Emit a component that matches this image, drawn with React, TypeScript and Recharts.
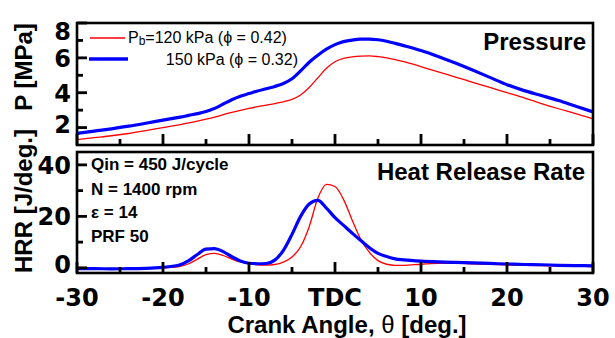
import { LineChart, Line, XAxis, YAxis } from 'recharts';

// crank angle grid [deg.]
const angles = [
  -30, -28, -26, -24, -22, -20, -18,
  -17, -16, -15, -14, -13, -12, -11, -10, -9, -8, -7, -6, -5, -4, -3, -2, -1,
  0, 1, 2, 3, 4, 5, 6, 7, 8,
  10, 12, 14, 16, 18, 20, 22, 24, 26, 28, 30,
];

// cylinder pressure [MPa]
const p120 = [
  1.31, 1.42, 1.53, 1.66, 1.82, 2.0, 2.17,
  2.27, 2.37, 2.48, 2.6, 2.74, 2.87, 2.99, 3.1, 3.2, 3.29, 3.38, 3.48, 3.62, 3.87, 4.3, 4.85, 5.4,
  5.78, 5.97, 6.06, 6.1, 6.11, 6.07, 6.0, 5.9, 5.78,
  5.5, 5.2, 4.9, 4.6, 4.3, 4.0, 3.7, 3.38, 3.08, 2.8, 2.5,
];
const p150 = [
  1.66, 1.8, 1.93, 2.08, 2.25, 2.43, 2.6,
  2.7, 2.8, 2.92, 3.1, 3.35, 3.6, 3.8, 3.95, 4.1, 4.23, 4.36, 4.53, 4.8, 5.25, 5.75, 6.15, 6.5,
  6.76, 6.93, 7.02, 7.07, 7.08, 7.04, 6.95, 6.83, 6.7,
  6.42, 6.08, 5.7, 5.3, 4.88, 4.46, 4.12, 3.84, 3.55, 3.22, 2.9,
];

// heat release rate [J/deg.]
const hrr120 = [
  -0.4, -0.5, -0.5, -0.4, -0.3, 0, 0.6,
  1.6, 3.4, 5.1, 5.6, 4.8, 3.4, 2.3, 1.6, 1.2, 1.1, 1.3, 2.2, 4.2, 8.2, 16, 27, 32.4,
  31.6, 26.5, 18.5, 11, 6, 2.8, 1.4, 1.0, 1.0,
  1.4, 1.7, 1.8, 1.6, 1.4, 1.2, 1.0, 0.9, 0.7, 0.6, 0.5,
];
const hrr150 = [
  -0.3, -0.3, -0.4, -0.3, -0.2, 0.2, 1.2,
  2.8, 5.2, 7.3, 7.5, 6.3, 4.3, 2.7, 1.8, 1.6, 1.7, 3.0, 6.8, 13, 20, 24.8, 26.2, 23.2,
  19.5, 16.5, 13.5, 10.6, 7.8, 5.6, 4.4, 3.5, 3.1,
  2.6, 2.3, 2.1, 1.9, 1.7, 1.5, 1.3, 1.2, 1.0, 0.9, 0.8,
];

const xTicks = [-30, -25, -20, -15, -10, -5, 0, 5, 10, 15, 20, 25, 30];
const pTicks = [2, 3, 4, 5, 6, 7, 8];
const pLabels = [2, 4, 6, 8];
const hrrTicks = [0, 10, 20, 30, 40];
const hrrLabels = [0, 20, 40];

const data = angles.map((a, i) => ({
  angle: a,
  p120: p120[i],
  p150: p150[i],
  hrr120: hrr120[i],
  hrr150: hrr150[i],
}));

const RED = '#ff0000';
const BLUE = '#0000ff';
const TICK_FONT = '"DejaVu Sans", sans-serif';
const TEXT_FONT = '"Liberation Sans", Arial, sans-serif';

const X_DOMAIN: [number, number] = [-30, 30];
const P_DOMAIN: [number, number] = [1, 8];
const HRR_DOMAIN: [number, number] = [-2, 45];
const PLOT_L = 77;
const PLOT_W = 516;
const P_TOP = 23;
const P_H = 122;
const HRR_TOP = 152;
const HRR_H = 121;

// inward tick marks for one panel frame
const frameTicks = (top: number, h: number, yDomain: [number, number], yTicks: number[], yLabels: number[]) => {
  const bottom = top + h;
  const xs = xTicks.map((v) => {
    const px = PLOT_L + ((v - X_DOMAIN[0]) / (X_DOMAIN[1] - X_DOMAIN[0])) * PLOT_W;
    const len = v % 10 === 0 ? 11 : 6;
    return <rect key={`x${v}`} x={px - 1.4} y={bottom - len} width={2.8} height={len} fill="#000" />;
  });
  const ys = yTicks.map((v) => {
    const py = top + ((yDomain[1] - v) / (yDomain[1] - yDomain[0])) * h;
    const len = yLabels.includes(v) ? 10 : 6;
    return <rect key={`y${v}`} x={PLOT_L} y={py - 1.4} width={len} height={2.8} fill="#000" />;
  });
  return [...xs, ...ys];
};

const xLabel = (props: any) => {
  const v = props.payload.value;
  if (v % 10 !== 0) return <g />;
  return (
    <text x={props.x} y={Number(props.y) + 33} textAnchor="middle" fontFamily={TICK_FONT} fontWeight="bold" fontSize={24} fill="#000">
      {v === 0 ? 'TDC' : v}
    </text>
  );
};

const makeYLabel = (labels: number[], top: number, bottom: number) => (props: any) => {
  const v = props.payload.value;
  if (!labels.includes(v)) return <g />;
  const dy = v === top ? 17 : v === bottom ? 5 : 9;
  return (
    <text x={Number(props.x) - 6} y={Number(props.y) + dy} textAnchor="end" fontFamily={TICK_FONT} fontWeight="bold" fontSize={24} fill="#000">
      {v}
    </text>
  );
};

export default function App() {
  return (
    <div style={{ position: 'absolute', left: 0, top: 0, width: 615, height: 338, background: '#fff' }}>
      <div style={{ position: 'absolute', left: 0, top: 0 }}>
        <LineChart width={615} height={150} data={data} margin={{ top: P_TOP, right: 22, bottom: 0, left: 0 }}>
          <XAxis
            dataKey="angle"
            type="number"
            domain={X_DOMAIN}
            ticks={xTicks}
            interval={0}
            height={5}
            tickSize={0}
            tickMargin={0}
            axisLine={false}
            tickLine={false}
            tick={false}
          />
          <YAxis
            type="number"
            domain={P_DOMAIN}
            ticks={pTicks}
            interval={0}
            width={PLOT_L}
            tickSize={0}
            tickMargin={0}
            axisLine={false}
            tickLine={false}
            tick={makeYLabel(pLabels, 8, 2)}
            allowDataOverflow
          />
          <Line dataKey="p120" type="monotone" stroke={RED} strokeWidth={1.3} dot={false} isAnimationActive={false} />
          <Line dataKey="p150" type="monotone" stroke={BLUE} strokeWidth={3.2} dot={false} isAnimationActive={false} />
        </LineChart>
      </div>
      <div style={{ position: 'absolute', left: 0, top: 140 }}>
        <LineChart width={615} height={198} data={data} margin={{ top: 12, right: 22, bottom: 0, left: 0 }}>
          <XAxis
            dataKey="angle"
            type="number"
            domain={X_DOMAIN}
            ticks={xTicks}
            interval={0}
            height={65}
            tickSize={0}
            tickMargin={0}
            axisLine={false}
            tickLine={false}
            tick={xLabel}
          />
          <YAxis
            type="number"
            domain={HRR_DOMAIN}
            ticks={hrrTicks}
            interval={0}
            width={PLOT_L}
            tickSize={0}
            tickMargin={0}
            axisLine={false}
            tickLine={false}
            tick={makeYLabel(hrrLabels, 99, 0)}
            allowDataOverflow
          />
          <Line dataKey="hrr120" type="monotone" stroke={RED} strokeWidth={1.3} dot={false} isAnimationActive={false} />
          <Line dataKey="hrr150" type="monotone" stroke={BLUE} strokeWidth={3.2} dot={false} isAnimationActive={false} />
        </LineChart>
      </div>
      <svg width={615} height={338} style={{ position: 'absolute', left: 0, top: 0, pointerEvents: 'none' }}>
        {/* panel frames with inward ticks */}
        <rect x={PLOT_L} y={P_TOP} width={PLOT_W} height={P_H} fill="none" stroke="#000" strokeWidth={2.6} />
        <rect x={PLOT_L} y={HRR_TOP} width={PLOT_W} height={HRR_H} fill="none" stroke="#000" strokeWidth={2.6} />
        {frameTicks(P_TOP, P_H, P_DOMAIN, pTicks, pLabels)}
        {frameTicks(HRR_TOP, HRR_H, HRR_DOMAIN, hrrTicks, hrrLabels)}

        {/* legend */}
        <line x1={90} y1={38} x2={125} y2={38} stroke={RED} strokeWidth={1.4} />
        <text x={128} y={43} fontFamily={TEXT_FONT} fontSize={16} fill="#000">
          P<tspan fontSize={12} dy={2}>b</tspan>
          <tspan dy={-2}>=120 kPa (ϕ = 0.42)</tspan>
        </text>
        <line x1={89} y1={59} x2={128} y2={59} stroke={BLUE} strokeWidth={3.4} />
        <text x={298} y={65} textAnchor="end" fontFamily={TEXT_FONT} fontSize={16} fill="#000">
          150 kPa (ϕ = 0.32)
        </text>

        {/* panel titles */}
        <text x={586} y={50} textAnchor="end" fontFamily={TEXT_FONT} fontWeight="bold" fontSize={24} fill="#000">
          Pressure
        </text>
        <text x={585} y={180} textAnchor="end" fontFamily={TEXT_FONT} fontWeight="bold" fontSize={24} fill="#000">
          Heat Release Rate
        </text>

        {/* conditions */}
        <g fontFamily={TEXT_FONT} fontWeight="bold" fontSize={17} fill="#000">
          <text x={91} y={170}>Qin = 450 J/cycle</text>
          <text x={91} y={195}>N = 1400 rpm</text>
          <text x={91} y={218}>ε = 14</text>
          <text x={91} y={242}>PRF 50</text>
        </g>

        {/* axis titles */}
        <text x={347} y={333} textAnchor="middle" fontFamily={TEXT_FONT} fontWeight="bold" fontSize={24} fill="#000">
          Crank Angle, <tspan fontWeight="normal">θ</tspan> [deg.]
        </text>
        <text transform="translate(32,67) rotate(-90)" textAnchor="middle" fontFamily={TEXT_FONT} fontWeight="bold" fontSize={24} fill="#000">
          P [MPa]
        </text>
        <text transform="translate(32,201) rotate(-90)" textAnchor="middle" fontFamily={TEXT_FONT} fontWeight="bold" fontSize={24} fill="#000">
          HRR [J/deg.]
        </text>
      </svg>
    </div>
  );
}
